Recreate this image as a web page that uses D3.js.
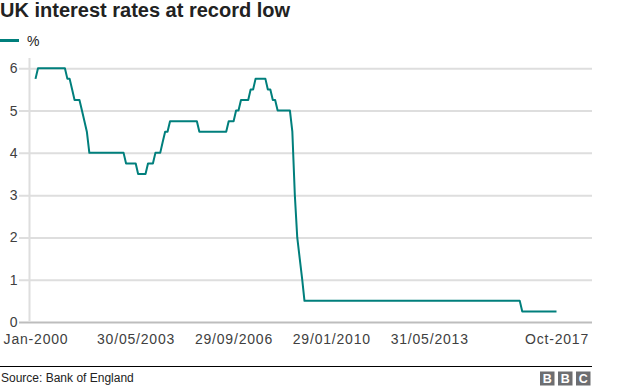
<!DOCTYPE html>
<html>
<head>
<meta charset="utf-8">
<script src="https://cdn.jsdelivr.net/npm/d3@7"></script>
<style>
    body { margin: 0; background: #fff; }
    text { font-family: "Liberation Sans", Arial, Helvetica, sans-serif; }
</style>
</head>
<body>
<svg id="chart"></svg>
<script>
// corner points of the Bank Rate line (month, %)
const months = [
    "2000-01", "2000-02", "2001-01", "2001-02", "2001-03", "2001-04", "2001-05",
    "2001-07", "2001-08", "2001-09", "2001-10", "2001-11", "2003-01", "2003-02",
    "2003-06", "2003-07", "2003-10", "2003-11", "2004-01", "2004-02", "2004-04",
    "2004-05", "2004-06", "2004-07", "2004-08", "2005-07", "2005-08", "2006-07",
    "2006-08", "2006-10", "2006-11", "2006-12", "2007-01", "2007-04", "2007-05",
    "2007-06", "2007-07", "2007-11", "2007-12", "2008-01", "2008-02", "2008-03",
    "2008-04", "2008-09", "2008-10", "2008-11", "2008-12", "2009-01", "2009-02",
    "2009-03", "2016-07", "2016-08", "2017-10"
];
const rates = [
    5.75, 6, 6, 5.75, 5.75, 5.5, 5.25,
    5.25, 5, 4.75, 4.5, 4, 4, 3.75,
    3.75, 3.5, 3.5, 3.75, 3.75, 4, 4,
    4.25, 4.5, 4.5, 4.75, 4.75, 4.5, 4.5,
    4.75, 4.75, 5, 5, 5.25, 5.25, 5.5,
    5.5, 5.75, 5.75, 5.5, 5.5, 5.25, 5.25,
    5, 5, 4.5, 3, 2, 1.5, 1,
    0.5, 0.5, 0.25, 0.25
];
const yTicks = [0, 1, 2, 3, 4, 5, 6];
const xTickDates = ["2000-01-01", "2003-05-30", "2006-09-29", "2010-01-29", "2013-05-31", "2017-10-01"];
const xTickLabels = ["Jan-2000", "30/05/2003", "29/09/2006", "29/01/2010", "31/05/2013", "Oct-2017"];
const title = "UK interest rates at record low";
const legendLabel = "%";
const source = "Source: Bank of England";

const teal = "#007f7c";
const dim = { width: 624, height: 390, left: 29.5, right: 592, top: 68.3, bottom: 322 };

const svg = d3.select("#chart")
    .attr("width", dim.width)
    .attr("height", dim.height);

const parseMonth = d3.timeParse("%Y-%m");
const parseDay = d3.timeParse("%Y-%m-%d");
const data = months.map((m, i) => ({ date: parseMonth(m), value: rates[i] }));

const xScale = d3.scaleTime()
    .domain([parseMonth("2000-01"), parseMonth("2017-10")])
    .range([35.5, 556.5]);
const yScale = d3.scaleLinear()
    .domain([0, 6])
    .range([dim.bottom, dim.top]);

// title + legend
svg.append("text")
    .attr("x", 0).attr("y", 17)
    .attr("font-size", 20).attr("font-weight", "bold")
    .attr("fill", "#222")
    .text(title);
svg.append("rect")
    .attr("x", 0).attr("y", 39)
    .attr("width", 19).attr("height", 3)
    .attr("fill", teal);
svg.append("text")
    .attr("x", 27).attr("y", 46)
    .attr("font-size", 14).attr("fill", "#222")
    .text(legendLabel);

// y axis: gridlines with labels
const yAxis = d3.axisLeft(yScale)
    .tickValues(yTicks)
    .tickSize(-(dim.right - 19))
    .tickPadding(2)
    .tickFormat(d3.format("d"));
const yg = svg.append("g")
    .attr("transform", "translate(" + dim.right + ",0)")
    .call(yAxis);
yg.select(".domain").remove();
yg.selectAll(".tick line")
    .attr("x1", 0)
    .attr("x2", 19 - dim.right)
    .attr("stroke", d => d === 0 ? "#bdbdbd" : "#dedede")
    .attr("stroke-width", 2);
yg.selectAll(".tick text")
    .attr("x", 17.5 - dim.right)
    .attr("font-size", 14)
    .attr("fill", "#404040")
    .attr("text-anchor", "end");

svg.append("line")
    .attr("x1", dim.left).attr("x2", dim.left)
    .attr("y1", 58).attr("y2", dim.bottom - 1)
    .attr("stroke", "#dedede")
    .attr("stroke-width", 2);

// x axis labels
const xAxis = d3.axisBottom(xScale)
    .tickValues(xTickDates.map(parseDay))
    .tickSize(0)
    .tickPadding(12)
    .tickFormat((d, i) => xTickLabels[i]);
const xg = svg.append("g")
    .attr("transform", "translate(0," + dim.bottom + ")")
    .call(xAxis);
xg.select(".domain").remove();
xg.selectAll(".tick text")
    .attr("font-size", 14)
    .attr("letter-spacing", 0.8)
    .attr("fill", "#404040");

// the rate line
const line = d3.line()
    .x(d => xScale(d.date))
    .y(d => yScale(d.value));
svg.append("path")
    .datum(data)
    .attr("fill", "none")
    .attr("stroke", teal)
    .attr("stroke-width", 2)
    .attr("stroke-linejoin", "round")
    .attr("d", line);

// footer
svg.append("line")
    .attr("x1", 0).attr("x2", dim.right)
    .attr("y1", 366.5).attr("y2", 366.5)
    .attr("stroke", "#000")
    .attr("stroke-width", 1.2);
svg.append("text")
    .attr("x", 1).attr("y", 382)
    .attr("font-size", 12).attr("fill", "#222")
    .text(source);

const logo = svg.append("g").attr("transform", "translate(540,371.5)");
["B", "B", "C"].forEach((ch, i) => {
    logo.append("rect")
        .attr("x", i * 18).attr("y", 0)
        .attr("width", 14.5).attr("height", 14)
        .attr("fill", "#6d6e71");
    logo.append("text")
        .attr("x", i * 18 + 7.25).attr("y", 11.5)
        .attr("text-anchor", "middle")
        .attr("font-size", 12.5).attr("font-weight", "bold")
        .attr("fill", "#fff")
        .text(ch);
});
</script>
</body>
</html>
